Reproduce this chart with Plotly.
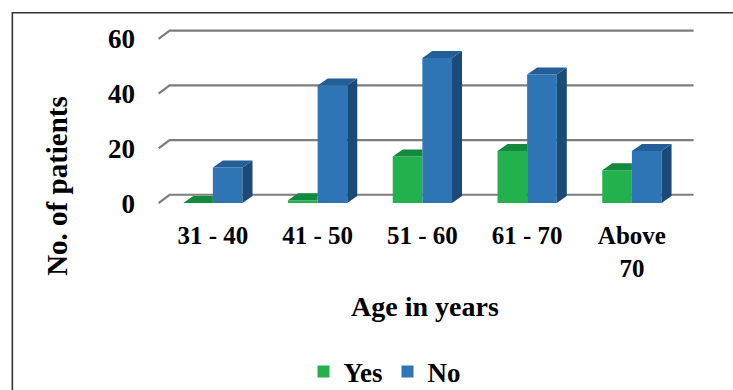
import plotly.graph_objects as go

# ---- data -------------------------------------------------------------
age_groups = ["31 - 40", "41 - 50", "51 - 60", "61 - 70", "Above<br>70"]
yes_counts = [0, 1, 17, 19, 12]
no_counts = [13, 43, 53, 47, 19]
y_ticks = [0, 20, 40, 60]

# ---- layout constants -------------------------------------------------
W, H = 733, 390
ML, MR, MT, MB = 150.2, 32.6, 28, 176
X_RANGE = [-0.6, 4.65]
Y_RANGE = [-4, 64]

PX_X = (W - ML - MR) / (X_RANGE[1] - X_RANGE[0])   # pixels per category unit
PX_Y = (H - MT - MB) / (Y_RANGE[1] - Y_RANGE[0])   # pixels per patient

BAR_W = 0.283                 # front-face width of one bar (category units)
DEPTH_X = 10 / PX_X           # 3-D depth of a column
DEPTH_Y = 7 / PX_Y
GRID_DX = 11 / PX_X           # depth of the side wall under the gridlines
GRID_DY = 8.3 / PX_Y
GRID_X0, GRID_X1 = -0.518, 4.589

FONT = "Liberation Serif"
YES = dict(front="#23b14d", top="#12893c", side="#0e6e31")
NO = dict(front="#2e75b6", top="#235e96", side="#1b4a78")


def px_to_paper_x(px):
    return (px - ML) / (W - ML - MR)


def px_to_paper_y(py):
    return (H - MB - py) / (H - MT - MB)


xs = list(range(len(age_groups)))
fig = go.Figure()

# front faces of the columns
fig.add_trace(go.Bar(x=xs, y=yes_counts, width=BAR_W, offset=-BAR_W, name="Yes",
                     marker=dict(color=YES["front"], line=dict(width=0)),
                     hoverinfo="y"))
fig.add_trace(go.Bar(x=xs, y=no_counts, width=BAR_W, offset=0, name="No",
                     marker=dict(color=NO["front"], line=dict(width=0)),
                     hoverinfo="y"))


def polygons(points_list):
    px, py = [], []
    for pts in points_list:
        for (a, b) in pts:
            px.append(a)
            py.append(b)
        px.append(pts[0][0])
        py.append(pts[0][1])
        px.append(None)
        py.append(None)
    return px, py


def face(points_list, color):
    px, py = polygons(points_list)
    return go.Scatter(x=px, y=py, mode="lines", fill="toself", fillcolor=color,
                      line=dict(width=0, color=color), hoverinfo="skip",
                      showlegend=False)


# top faces of "Yes" columns (the part behind the neighbouring "No" column is hidden)
yes_tops = []
for i, v in zip(xs, yes_counts):
    x0, x1 = i - BAR_W, i
    yes_tops.append([(x0, v), (x1, v), (x1, v + DEPTH_Y), (x0 + DEPTH_X, v + DEPTH_Y)])
fig.add_trace(face(yes_tops, YES["top"]))

# top and side faces of "No" columns
no_tops, no_sides = [], []
for i, v in zip(xs, no_counts):
    x0, x1 = i, i + BAR_W
    no_tops.append([(x0, v), (x1, v), (x1 + DEPTH_X, v + DEPTH_Y), (x0 + DEPTH_X, v + DEPTH_Y)])
    no_sides.append([(x1, 0), (x1 + DEPTH_X, DEPTH_Y), (x1 + DEPTH_X, v + DEPTH_Y), (x1, v)])
fig.add_trace(face(no_sides, NO["side"]))
fig.add_trace(face(no_tops, NO["top"]))

# gridlines on the back wall with the slanted side-wall part
shapes = []
for t in y_ticks:
    path = (f"M {GRID_X0},{t} L {GRID_X0 + GRID_DX},{t + GRID_DY} "
            f"L {GRID_X1},{t + GRID_DY}")
    shapes.append(dict(type="path", path=path, xref="x", yref="y", layer="below",
                       line=dict(color="#7d7d7d", width=2.2)))

# outer frame
shapes.append(dict(type="rect", xref="paper", yref="paper",
                   x0=px_to_paper_x(12.5), x1=px_to_paper_x(760),
                   y0=px_to_paper_y(420), y1=px_to_paper_y(12.8),
                   line=dict(color="#333333", width=1.6), fillcolor="rgba(0,0,0,0)"))

# vertical axis title
annotations = [dict(text="No. of patients", textangle=-90, showarrow=False,
                    xref="paper", yref="paper",
                    x=px_to_paper_x(57), y=px_to_paper_y(186),
                    xanchor="center", yanchor="middle",
                    font=dict(family=FONT, size=29, weight="bold", color="black"))]

fig.update_layout(
    width=W, height=H,
    margin=dict(l=ML, r=MR, t=MT, b=MB, pad=0, autoexpand=False),
    paper_bgcolor="white", plot_bgcolor="white",
    barmode="overlay",
    shapes=shapes,
    annotations=annotations,
    font=dict(family=FONT, color="black", size=25, weight="bold"),
    xaxis=dict(range=X_RANGE, tickvals=xs, ticktext=age_groups,
               showgrid=False, zeroline=False, showline=False, ticks="",
               tickfont=dict(family=FONT, size=25, weight="bold"),
               ticklabelstandoff=4,
               title=dict(text="Age in years", standoff=15,
                          font=dict(family=FONT, size=28, weight="bold"))),
    yaxis=dict(range=Y_RANGE, tickvals=y_ticks,
               showgrid=False, zeroline=False, showline=False, ticks="",
               tickfont=dict(family=FONT, size=27, weight="bold"),
               ticklabelstandoff=14),
    legend=dict(orientation="h", xref="container", yref="container",
                x=384.5 / W, xanchor="center",
                y=1 - 372 / H, yanchor="middle",
                font=dict(family=FONT, size=27, weight="bold"),
                itemwidth=30, bgcolor="rgba(0,0,0,0)"),
    showlegend=True,
)

fig.write_html("out.html")
